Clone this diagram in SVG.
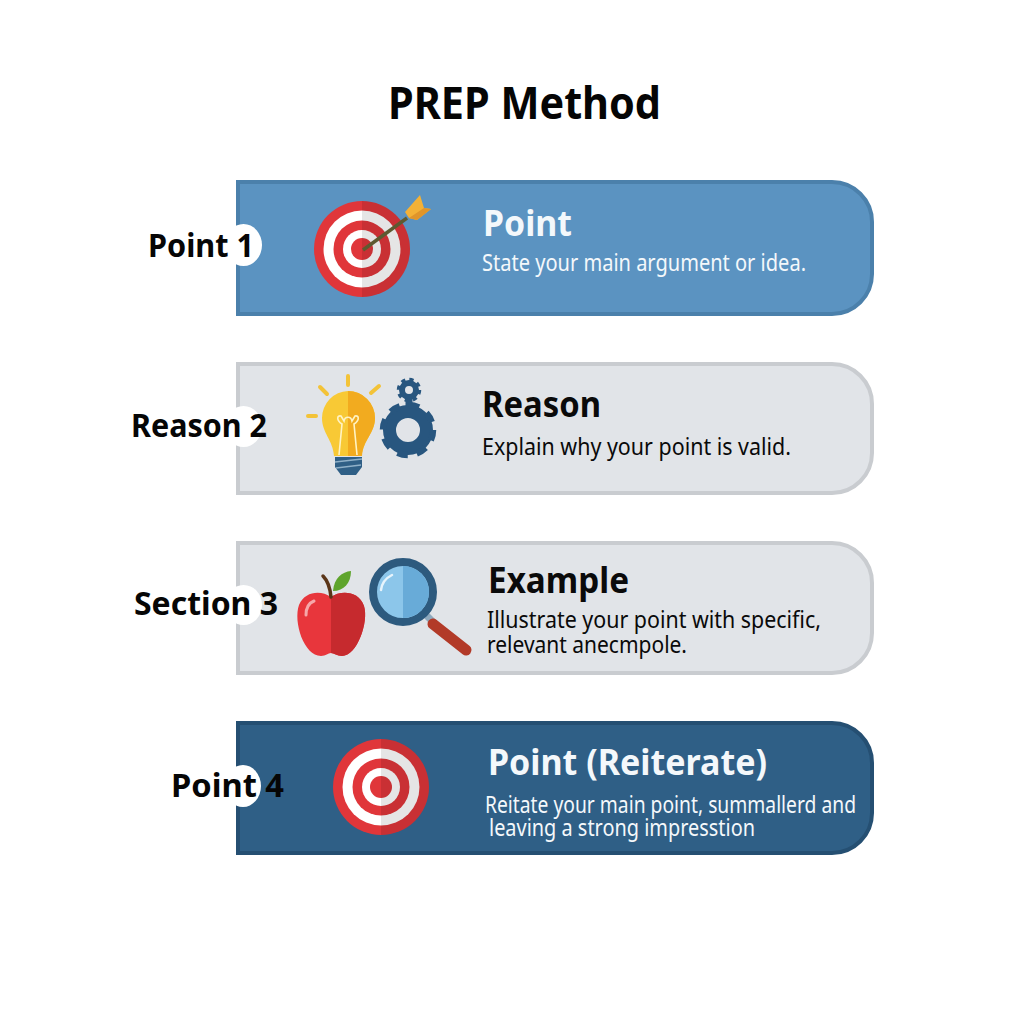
<svg xmlns="http://www.w3.org/2000/svg" xmlns:xlink="http://www.w3.org/1999/xlink" width="1024" height="1024" viewBox="0 0 1024 1024">
<style>
text{font-family:"Noto Sans","Liberation Sans",sans-serif}
.title{font-size:44px;font-weight:700;fill:#050505}
.side{font-size:32px;font-weight:700;fill:#060606}
.head{font-size:35px;font-weight:700}
.body{font-size:23px;font-weight:400}
.lt{fill:#f4f8fb}
.dk{fill:#0a0a0a}
.blue{fill:#5b93c1;stroke:#4b80ab;stroke-width:4}
.grey{fill:#e1e4e8;stroke:#c9ccd0;stroke-width:4}
.navy{fill:#2f5f86;stroke:#254f72;stroke-width:4}
.notch{fill:#fff}
</style>
<defs>
<g id="target">
<circle r="48" fill="#e0363a"/>
<circle r="38.5" fill="#fff"/>
<circle r="28.5" fill="#e0363a"/>
<circle r="19" fill="#fff"/>
<circle r="11" fill="#e0363a"/>
<path d="M0-48A48 48 0 0 1 0 48Z" fill="#000" opacity=".1"/>
</g>
</defs>
<rect width="1024" height="1024" fill="#fff"/>
<text class="title" x="388" y="119" textLength="273" lengthAdjust="spacingAndGlyphs">PREP Method</text>

<g id="node-point">
<path class="blue" d="M238 182H832A40 40 0 0 1 872 222V274A40 40 0 0 1 832 314H238Z"/>
<rect class="notch" x="225" y="224" width="37" height="42" rx="21"/>
<g id="icon-target-1">
<use href="#target" xlink:href="#target" transform="translate(362 249)"/>
<path d="M363 250L407 218" stroke="#5d5a30" stroke-width="3.5" fill="none"/>
<path d="M405 212L420 195L424 208L431 209L417 220L409 218Z" fill="#f3b136"/>
<path d="M409 218L424 208L431 209L417 220Z" fill="#e0952a"/>
</g>
<text class="head lt" x="483" y="236" textLength="89" lengthAdjust="spacingAndGlyphs">Point</text>
<text class="body lt" x="482" y="271" textLength="324" lengthAdjust="spacingAndGlyphs">State your main argument or idea.</text>
<text class="side" x="148" y="257" textLength="106" lengthAdjust="spacingAndGlyphs">Point 1</text>
</g>

<g id="node-reason">
<path class="grey" d="M238 364H832A40 40 0 0 1 872 404V453A40 40 0 0 1 832 493H238Z"/>
<rect class="notch" x="225" y="406" width="37" height="41" rx="20.5"/>
<g id="icon-bulb">
<g stroke="#f3c338" stroke-width="4" stroke-linecap="round" fill="none">
<path d="M348 376V385M320 387L327 394M379 386L371 393M308 416H316"/>
</g>
<path d="M348 391A27 27 0 0 1 375 418C375 433 363 440 362 456H334C333 440 322 433 322 418A27 27 0 0 1 348 391Z" fill="#f8c935"/>
<path d="M348 391A27 27 0 0 1 375 418C375 433 363 440 362 456H348Z" fill="#f2ab1f"/>
<path d="M339 455L342 424C336 420 337 415 341 416L344 421C345 416 351 416 352 421L355 416C359 415 360 420 354 424L357 455" fill="none" stroke="#fff3c4" stroke-width="1.6"/>
<path d="M335 457H362V467L356 475H341L335 467Z" fill="#2f5f86"/>
<path d="M335 462L362 459M336 468L361 465" stroke="#8fb0c8" stroke-width="1.5"/>
</g>
<g id="icon-gears" fill="none" stroke="#28567f">
<circle cx="408" cy="430" r="18.5" stroke-width="13"/>
<circle cx="408" cy="430" r="25" stroke-width="6.5" stroke-dasharray="10.5 9.13"/>
<circle cx="409" cy="390" r="7" stroke-width="6"/>
<circle cx="409" cy="390" r="10.5" stroke-width="3.5" stroke-dasharray="4.2 4.05"/>
<path d="M409 399V406" stroke-width="7"/>
</g>
<text class="head dk" x="482" y="417" textLength="119" lengthAdjust="spacingAndGlyphs">Reason</text>
<text class="body dk" x="482" y="455" textLength="309" lengthAdjust="spacingAndGlyphs">Explain why your point is valid.</text>
<text class="side" x="131" y="437" textLength="136" lengthAdjust="spacingAndGlyphs">Reason 2</text>
</g>

<g id="node-example">
<path class="grey" d="M238 543H832A40 40 0 0 1 872 583V633A40 40 0 0 1 832 673H238Z"/>
<rect class="notch" x="225" y="585" width="37" height="40" rx="20"/>
<g id="icon-apple">
<path d="M331 597C321 590 305 591 299 605C293 622 304 656 321 656C326 656 328 653 331 653C334 653 337 656 342 656C357 656 369 622 364 606C359 591 341 590 331 597Z" fill="#e8363c"/>
<path d="M331 597C341 590 359 591 364 606C369 622 357 656 342 656C337 656 334 653 331 653Z" fill="#c62a2e"/>
<path d="M306 615C306 608 309 603 314 601" stroke="#f6a7a9" stroke-width="3" stroke-linecap="round" fill="none"/>
<path d="M323 576C328 581 330 587 331 597" stroke="#5a3518" stroke-width="3.5" stroke-linecap="round" fill="none"/>
<path d="M333 591C334 578 342 572 351 571C351 583 344 591 333 591Z" fill="#5ea42c"/>
</g>
<g id="icon-magnifier">
<path d="M424 613L434 623" stroke="#8fa9bd" stroke-width="7"/>
<path d="M433 624L466 650" stroke="#b23a28" stroke-width="11" stroke-linecap="round"/>
<circle cx="403" cy="592" r="30" fill="#8cc6ea" stroke="#2d5a7e" stroke-width="8"/>
<path d="M403 566A26 26 0 0 1 403 618Z" fill="#68abd8"/>
<path d="M381 590C382 582 386 578 392 575" stroke="#e6f4fc" stroke-width="2.5" stroke-linecap="round" fill="none"/>
</g>
<text class="head dk" x="488" y="593" textLength="141" lengthAdjust="spacingAndGlyphs">Example</text>
<text class="body dk" x="487" y="628" textLength="334" lengthAdjust="spacingAndGlyphs">Illustrate your point with specific,</text>
<text class="body dk" x="487" y="653" textLength="200" lengthAdjust="spacingAndGlyphs">relevant anecmpole.</text>
<text class="side" x="134" y="615" textLength="144" lengthAdjust="spacingAndGlyphs">Section 3</text>
</g>

<g id="node-reiterate">
<path class="navy" d="M238 723H832A40 40 0 0 1 872 763V813A40 40 0 0 1 832 853H238Z"/>
<rect class="notch" x="225" y="765" width="36" height="42" rx="21"/>
<g id="icon-target-2">
<use href="#target" xlink:href="#target" transform="translate(381 787)"/>
</g>
<text class="head lt" x="488" y="775" textLength="279" lengthAdjust="spacingAndGlyphs">Point (Reiterate)</text>
<text class="body lt" x="485" y="813" textLength="371" lengthAdjust="spacingAndGlyphs">Reitate your main point, summallerd and</text>
<text class="body lt" x="489" y="836" textLength="266" lengthAdjust="spacingAndGlyphs">leaving a strong impresstion</text>
<text class="side" x="171" y="797" textLength="113" lengthAdjust="spacingAndGlyphs">Point 4</text>
</g>
</svg>
